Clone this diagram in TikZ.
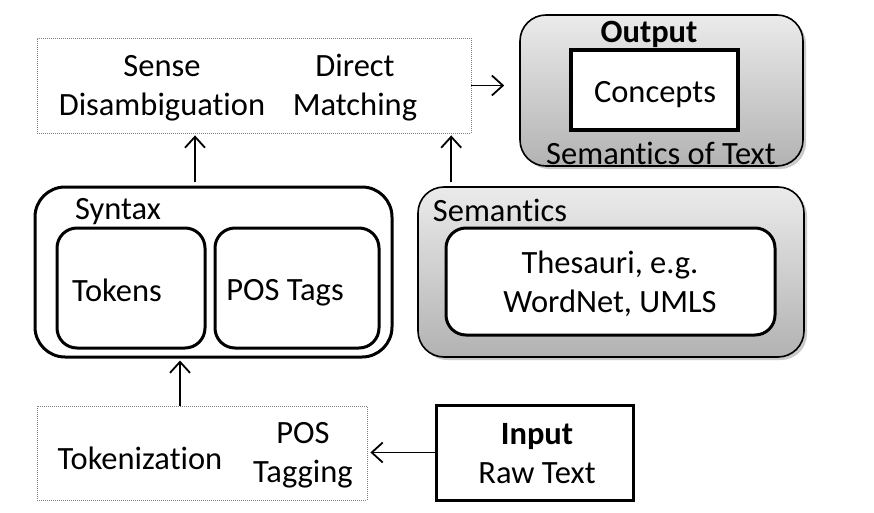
\documentclass[tikz,border=0pt]{standalone}
\usepackage{fontspec}
\setmainfont[Ligatures=NoCommon]{Carlito}
\usepackage{tikz}
\usetikzlibrary{arrows.meta, shadows}

\tikzset{
	dotbox/.style={draw=gray, line width=0.8pt, dash pattern=on 1pt off 1pt, inner sep=0pt},
	greybox/.style={draw=black, line width=1.6pt, rounded corners=26pt, top color=black!8, bottom color=black!30,
		drop shadow={shadow xshift=3pt, shadow yshift=-3pt, opacity=0.35, fill=black!60}, inner sep=0pt},
	roundbox/.style={draw=black, line width=3pt, rounded corners=20pt, fill=white, inner sep=0pt},
	plainbox/.style={draw=black, line width=3.5pt, fill=white, inner sep=0pt},
	lbl/.style={align=center, inner sep=0pt},
	arr/.style={-{Straight Barb[length=11pt,width=20pt]}, line width=1.8pt}
}

\begin{document}
\begin{tikzpicture}[x=1pt, y=-1pt, font=\fontsize{32.5}{39}\selectfont]
		\useasboundingbox (0,0) rectangle (874,513);
		% boxes
		\node[dotbox, minimum width=434pt, minimum height=95pt] (match) at (254,85.5) {};
		\node[greybox, minimum width=283pt, minimum height=151pt] (output) at (661.5,90.5) {};
		\node[plainbox, line width=4pt, minimum width=167pt, minimum height=80pt] (concepts) at (654.5,90) {};
		\node[draw=black, line width=3pt, rounded corners=30pt, minimum width=357pt, minimum height=170pt, inner sep=0pt] (syntax) at (213.5,272) {};
		\node[roundbox, minimum width=148pt, minimum height=120pt] (tokens) at (131,288) {};
		\node[roundbox, minimum width=164pt, minimum height=120pt] (tags) at (297,288) {};
		\node[greybox, minimum width=386pt, minimum height=170pt] (semantics) at (611,272) {};
		\node[roundbox, minimum width=329pt, minimum height=107pt] (thesauri) at (610.5,281.5) {};
		\node[dotbox, minimum width=330pt, minimum height=94pt] (tokenize) at (202,453) {};
		\node[plainbox, line width=3pt, minimum width=197pt, minimum height=95pt] (input) at (534.5,452.5) {};
		% texts
		\node[lbl] (sense) at (162,88) {Sense\\Disambiguation};
		\node[lbl] (direct) at (355,88) {Direct\\Matching};
		\node[lbl, font=\fontsize{32.5}{39}\selectfont\bfseries] (outlbl) at (649,34) {Output};
		\node[lbl] (conlbl) at (655,95) {Concepts};
		\node[lbl] (sotlbl) at (661,153) {Semantics of Text};
		\node[lbl] (synlbl) at (118,212) {Syntax};
		\node[lbl] (toklbl) at (117,290) {Tokens};
		\node[lbl] (taglbl) at (285,293) {POS Tags};
		\node[lbl] (semlbl) at (500,210) {Semantics};
		\node[lbl] (thslbl) at (610,284) {Thesauri, e.g.\\WordNet, UMLS};
		\node[lbl] (tkzlbl) at (140,458) {Tokenization};
		\node[lbl] (poslbl) at (303,455) {POS\\Tagging};
		\node[lbl] (inlbl) at (537,454) {\textbf{Input}\\Raw Text};
		% arrows
		\draw[arr, shorten >=15pt] (match.east) -- (match.east -| output.west);
		\draw[arr, shorten <=4pt, shorten >=2pt] ([xshift=-18.5pt]syntax.north) -- ([xshift=-18.5pt]syntax.north |- match.south);
		\draw[arr, shorten <=4pt, shorten >=2pt] ([xshift=34pt]semantics.north west) -- ([xshift=34pt]semantics.north west |- match.south);
		\draw[arr, shorten >=2pt] ([xshift=-22pt]tokenize.north) -- ([xshift=-22pt]tokenize.north |- syntax.south);
		\draw[arr, shorten >=3pt] (input.west) -- (input.west -| tokenize.east);
	\end{tikzpicture}
\end{document}
